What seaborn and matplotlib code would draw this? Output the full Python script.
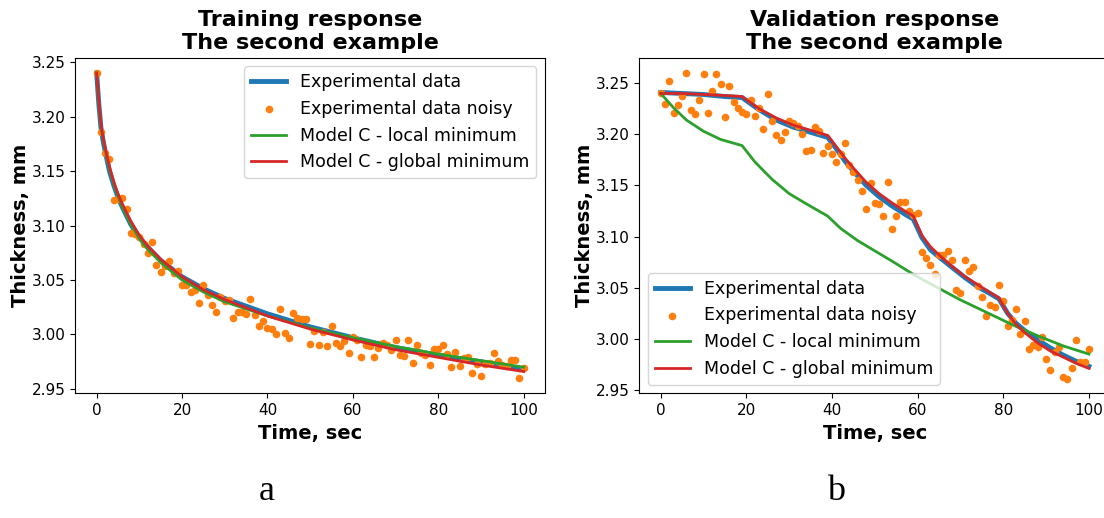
import matplotlib
matplotlib.use("Agg")
import matplotlib.pyplot as plt
import seaborn as sns
import numpy as np

# ---------------- data ----------------
time_noisy = list(range(0, 101))

train_noisy = [3.240, 3.186, 3.167, 3.161, 3.123, 3.124, 3.125, 3.115, 3.093, 3.092,
               3.089, 3.083, 3.075, 3.085, 3.064, 3.057, 3.063, 3.067, 3.056, 3.058,
               3.045, 3.045, 3.039, 3.041, 3.029, 3.045, 3.036, 3.027, 3.021, 3.034,
               3.031, 3.032, 3.015, 3.021, 3.021, 3.019, 3.033, 3.018, 3.008, 3.012,
               3.006, 3.005, 3.000, 3.023, 3.001, 2.997, 3.020, 3.015, 3.014, 3.014,
               2.991, 3.003, 2.990, 3.002, 2.989, 3.008, 2.992, 2.989, 2.994, 2.983,
               2.998, 2.995, 2.979, 2.990, 2.989, 2.979, 2.988, 2.992, 2.990, 2.986,
               2.995, 2.981, 2.980, 2.995, 2.974, 2.990, 2.983, 2.981, 2.972, 2.987,
               2.987, 2.990, 2.982, 2.970, 2.984, 2.971, 2.978, 2.979, 2.965, 2.973,
               2.962, 2.973, 2.974, 2.983, 2.976, 2.972, 2.971, 2.977, 2.977, 2.960,
               2.969]

train_t = [0, 0.5, 1, 1.5, 2, 3, 4, 5, 6, 8, 10, 12, 15, 20, 25, 30, 40, 50, 60, 70, 80, 90, 100]
train_exp = [3.240, 3.212, 3.190, 3.178, 3.168, 3.150, 3.137, 3.126, 3.117, 3.101, 3.089, 3.080,
             3.068, 3.053, 3.042, 3.033, 3.019, 3.007, 2.997, 2.988, 2.981, 2.975, 2.968]
train_local = [3.240, 3.212, 3.191, 3.179, 3.169, 3.152, 3.138, 3.127, 3.117, 3.101, 3.088, 3.078,
               3.066, 3.050, 3.039, 3.030, 3.017, 3.006, 2.997, 2.989, 2.982, 2.976, 2.970]
train_global = [3.240, 3.215, 3.193, 3.181, 3.171, 3.154, 3.140, 3.129, 3.120, 3.104, 3.091, 3.081,
                3.069, 3.053, 3.041, 3.032, 3.017, 3.005, 2.995, 2.986, 2.979, 2.972, 2.966]

val_noisy = [3.240, 3.230, 3.252, 3.221, 3.229, 3.238, 3.260, 3.224, 3.220, 3.234,
             3.259, 3.221, 3.242, 3.259, 3.249, 3.217, 3.247, 3.232, 3.226, 3.222,
             3.220, 3.234, 3.218, 3.226, 3.205, 3.239, 3.213, 3.199, 3.194, 3.202,
             3.213, 3.211, 3.208, 3.200, 3.184, 3.185, 3.207, 3.203, 3.182, 3.189,
             3.181, 3.173, 3.181, 3.192, 3.170, 3.163, 3.155, 3.145, 3.127, 3.152,
             3.133, 3.132, 3.120, 3.153, 3.107, 3.120, 3.134, 3.134, 3.125, 3.121,
             3.123, 3.085, 3.079, 3.072, 3.063, 3.082, 3.082, 3.086, 3.077, 3.048,
             3.045, 3.077, 3.066, 3.070, 3.052, 3.041, 3.022, 3.033, 3.031, 3.053,
             3.037, 3.012, 3.018, 3.029, 3.005, 3.017, 2.990, 2.994, 2.992, 3.002,
             2.980, 2.969, 2.987, 2.992, 2.963, 2.961, 2.971, 2.999, 2.977, 2.977,
             2.990]

val_t = [0, 5, 10, 15, 19, 21, 23, 27, 31, 35, 39, 41, 43, 45, 48, 51, 54, 57, 59,
         61, 63, 65, 68, 71, 74, 77, 79, 81, 83, 85, 88, 91, 94, 97, 100]
val_exp = [3.241, 3.240, 3.239, 3.237, 3.236, 3.230, 3.224, 3.214, 3.207, 3.202, 3.197,
           3.186, 3.174, 3.164, 3.150, 3.139, 3.130, 3.122, 3.117, 3.099, 3.087, 3.080,
           3.070, 3.060, 3.051, 3.044, 3.039, 3.025, 3.015, 3.008, 2.999, 2.991, 2.984,
           2.978, 2.973]
val_global = [3.240, 3.240, 3.239, 3.238, 3.237, 3.231, 3.225, 3.216, 3.209, 3.204, 3.199,
              3.188, 3.177, 3.167, 3.153, 3.142, 3.133, 3.125, 3.120, 3.101, 3.090, 3.082,
              3.071, 3.061, 3.053, 3.045, 3.040, 3.025, 3.014, 3.006, 2.996, 2.988, 2.982,
              2.976, 2.971]
val_local_t = [0, 3, 6, 10, 14, 19, 22, 26, 30, 34, 39, 42, 46, 50, 54, 59, 62, 66, 70,
               74, 79, 83, 88, 94, 100]
val_local = [3.240, 3.226, 3.214, 3.203, 3.195, 3.189, 3.173, 3.156, 3.142, 3.132, 3.120,
             3.108, 3.096, 3.086, 3.076, 3.063, 3.056, 3.047, 3.038, 3.030, 3.020, 3.012,
             3.003, 2.993, 2.985]

labels = ["Experimental data", "Experimental data noisy",
          "Model C - local minimum", "Model C - global minimum"]
titles = ["Training response\nThe second example", "Validation response\nThe second example"]
panel_letters = ["a", "b"]

# ---------------- figure ----------------
C_BLUE, C_ORANGE, C_GREEN, C_RED = "#1f77b4", "#ff7f0e", "#2ca02c", "#d62728"

fig = plt.figure(figsize=(11.04, 5.18), dpi=100)
ax1 = fig.add_axes([0.0682, 0.2407, 0.4255, 0.6479])
ax2 = fig.add_axes([0.5791, 0.2407, 0.4266, 0.6479])


def draw(ax, t_exp, y_exp, y_noisy, t_loc, y_loc, t_glob, y_glob, title, legend_loc):
    sns.lineplot(x=t_exp, y=y_exp, ax=ax, color=C_BLUE, linewidth=3.5, label=labels[0],
                 zorder=2, estimator=None, sort=False)
    sns.scatterplot(x=time_noisy, y=y_noisy, ax=ax, color=C_ORANGE, s=30, linewidth=0,
                    label=labels[1], zorder=2.5)
    sns.lineplot(x=t_loc, y=y_loc, ax=ax, color=C_GREEN, linewidth=2, label=labels[2],
                 zorder=3, estimator=None, sort=False)
    sns.lineplot(x=t_glob, y=y_glob, ax=ax, color=C_RED, linewidth=2, label=labels[3],
                 zorder=4, estimator=None, sort=False)
    ax.set_title(title, fontsize=16, fontweight="bold")
    ax.set_xlabel("Time, sec", fontsize=14, fontweight="bold")
    ax.set_ylabel("Thickness, mm", fontsize=14, fontweight="bold", labelpad=1)
    ax.tick_params(labelsize=11)
    ax.set_xticks([0, 20, 40, 60, 80, 100])
    ax.set_yticks([2.95, 3.00, 3.05, 3.10, 3.15, 3.20, 3.25])
    ax.set_xlim(-5, 105)
    ax.legend(loc=legend_loc, fontsize=12.5)


draw(ax1, train_t, train_exp, train_noisy, train_t, train_local, train_t, train_global,
     titles[0], "upper right")
ax1.set_ylim(2.946, 3.254)
draw(ax2, val_t, val_exp, val_noisy, val_local_t, val_local, val_t, val_global,
     titles[1], "lower left")
ax2.set_ylim(2.9466, 3.275)

fig.text(0.242, 0.035, panel_letters[0], fontsize=26, family="Liberation Serif",
         ha="center", va="baseline")
fig.text(0.757, 0.035, panel_letters[1], fontsize=26, family="Liberation Serif",
         ha="center", va="baseline")

fig.savefig("out.png", dpi=100)
